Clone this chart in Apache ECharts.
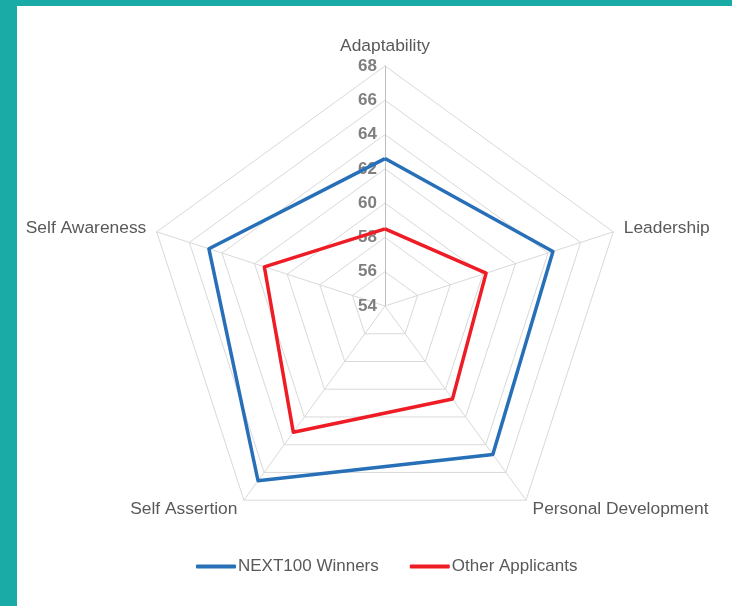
<!DOCTYPE html>
<html>
<head>
<meta charset="utf-8">
<title>NEXT100 radar</title>
<script src="https://cdn.jsdelivr.net/npm/echarts@6/dist/echarts.min.js"></script>
<style>
  html, body { margin: 0; padding: 0; background: #fff; }
  #chart { width: 732px; height: 606px; }
</style>
</head>
<body>
<div id="chart"></div>
<script>
// categories, clockwise from the top
const categories = ['Adaptability', 'Leadership', 'Personal Development', 'Self Assertion', 'Self Awareness']
const winners = [62.6, 64.3, 64.7, 66.6, 64.8]
const others = [58.5, 60.2, 60.7, 63.1, 61.4]
const seriesNames = ['NEXT100 Winners', 'Other Applicants']
const axisMin = 54
const axisMax = 68

const teal = '#1aaba7'
const gridColor = '#d9d9d9'

// echarts lays indicators out counter-clockwise, so flip everything after the first
const order = [0].concat(categories.map((c, i) => i).slice(1).reverse())
const pick = arr => order.map(i => arr[i])

const chart = echarts.init(document.getElementById('chart'))

const indicator = pick(categories).map((name, i) => {
  const ind = { name: name, min: axisMin, max: axisMax }
  // only the top spoke carries the value labels (like Excel)
  if (i === 0) {
    ind.axisLabel = { show: true }
    ind.axisLine = { lineStyle: { color: '#bfbfbf' } }
  }
  return ind
})

const option = {
  backgroundColor: '#fff',
  animation: false,
  textStyle: { fontFamily: 'Liberation Sans, Arial, sans-serif' },
  graphic: [
    { type: 'rect', left: 0, top: 0, shape: { width: 732, height: 6 }, style: { fill: teal } },
    { type: 'rect', left: 0, top: 0, shape: { width: 17, height: 606 }, style: { fill: teal } }
  ],
  legend: {
    left: 191,
    top: 553,
    icon: 'roundRect',
    itemWidth: 40,
    itemHeight: 4,
    itemGap: 31,
    textStyle: { color: '#595959', fontSize: 17, padding: [0, 0, 0, -3] },
    data: seriesNames
  },
  radar: {
    center: [385, 306],
    radius: 240,
    startAngle: 90,
    shape: 'polygon',
    splitNumber: 7,
    nameGap: 11,
    axisName: { color: '#595959', fontSize: 17.4 },
    axisLine: { lineStyle: { color: gridColor, width: 1 } },
    splitLine: { lineStyle: { color: gridColor, width: 1 } },
    splitArea: { show: false },
    axisTick: { show: false },
    axisLabel: {
      show: false,
      color: '#7f7f7f',
      fontSize: 17,
      fontWeight: 'bold',
      margin: 8
    },
    indicator: indicator
  },
  series: [{
    type: 'radar',
    symbol: 'none',
    data: [
      {
        name: seriesNames[0],
        value: pick(winners),
        lineStyle: { color: '#2770b8', width: 3.5 },
        itemStyle: { color: '#2770b8' }
      },
      {
        name: seriesNames[1],
        value: pick(others),
        lineStyle: { color: '#ee1c25', width: 3.5 },
        itemStyle: { color: '#ee1c25' }
      }
    ]
  }]
}

chart.setOption(option)
</script>
</body>
</html>
